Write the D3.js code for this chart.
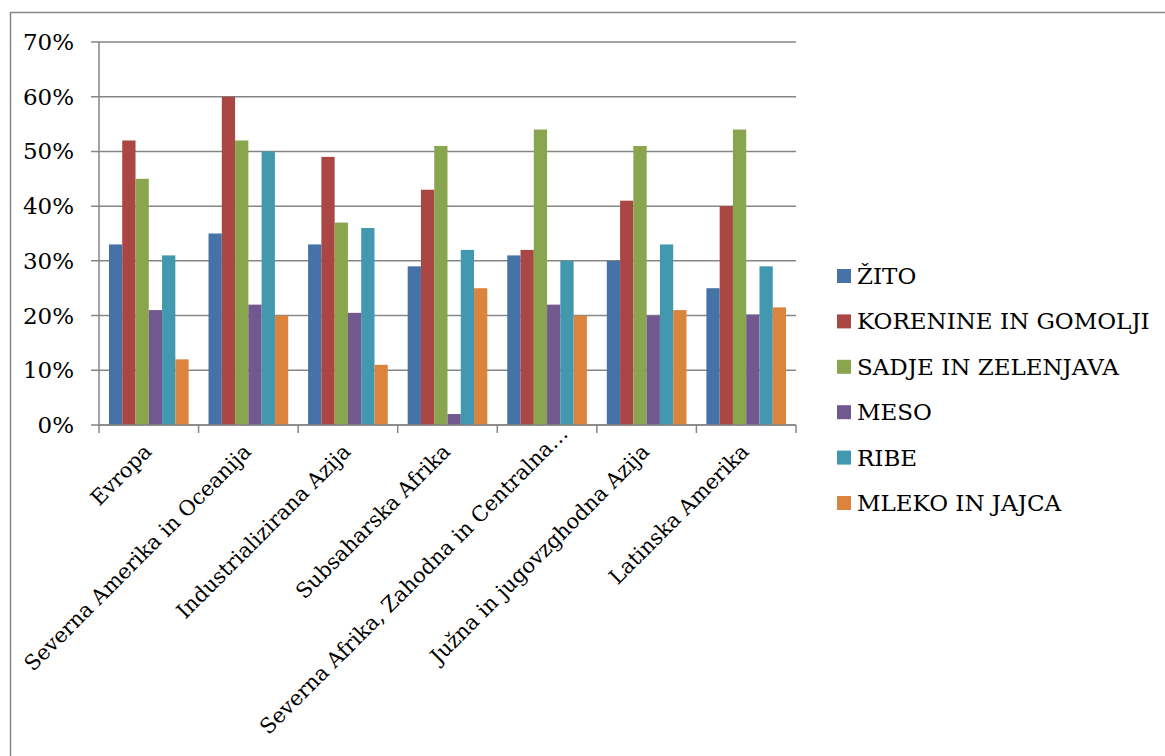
<!DOCTYPE html>
<html>
<head>
<meta charset="utf-8">
<script src="https://cdn.jsdelivr.net/npm/d3@7"></script>
<style>
  body { margin: 0; background: #fff; }
</style>
</head>
<body>
<svg width="1165" height="756"></svg>
<script>
const regions = [
  "Evropa",
  "Severna Amerika in Oceanija",
  "Industrializirana Azija",
  "Subsaharska Afrika",
  "Severna Afrika, Zahodna in Centralna…",
  "Južna in jugovzghodna Azija",
  "Latinska Amerika"
];
const seriesNames = ["ŽITO", "KORENINE IN GOMOLJI", "SADJE IN ZELENJAVA", "MESO", "RIBE", "MLEKO IN JAJCA"];
const seriesColors = ["#4572A7", "#AA4643", "#89A54E", "#71588F", "#4198AF", "#DB843D"];

// values in %, one array per series, in region order
const zito     = [33, 35, 33, 29, 31, 30, 25];
const korenine = [52, 60, 49, 43, 32, 41, 40];
const sadje    = [45, 52, 37, 51, 54, 51, 54];
const meso     = [21, 22, 20.5, 2, 22, 20, 20.2];
const ribe     = [31, 50, 36, 32, 30, 33, 29];
const mleko    = [12, 20, 11, 25, 20, 21, 21.5];
const yTicks = [0, 10, 20, 30, 40, 50, 60, 70];

const series = [zito, korenine, sadje, meso, ribe, mleko];

const svg = d3.select("svg");
const grey = "#868686";
const serif = "'DejaVu Serif', 'Liberation Serif', serif";

// outer chart border
svg.append("rect")
  .attr("x", 10.5).attr("y", 12.5)
  .attr("width", 1200).attr("height", 800)
  .attr("fill", "none")
  .attr("stroke", grey)
  .attr("stroke-width", 1.5);

const plotLeft = 99, plotRight = 796, plotTop = 42, plotBottom = 425;

const x = d3.scaleBand().domain(regions).range([plotLeft, plotRight]).padding(0);
const xs = d3.scaleBand().domain(d3.range(series.length))
  .range([0, x.bandwidth()]).paddingInner(0).paddingOuter(0.75);
const y = d3.scaleLinear().domain([0, 70]).range([plotBottom, plotTop]);

// gridlines
svg.append("g")
  .selectAll("line")
  .data(yTicks)
  .enter().append("line")
  .attr("x1", plotLeft - 8).attr("x2", plotRight)
  .attr("y1", d => y(d)).attr("y2", d => y(d))
  .attr("stroke", grey)
  .attr("stroke-width", 1.5);

// y labels
svg.append("g")
  .selectAll("text")
  .data(yTicks)
  .enter().append("text")
  .attr("x", 74)
  .attr("y", d => y(d))
  .attr("dy", "0.35em")
  .attr("text-anchor", "end")
  .attr("font-family", serif)
  .attr("font-size", "23px")
  .attr("fill", "#000")
  .text(d => d + "%");

// bars
const groups = svg.append("g")
  .selectAll("g")
  .data(series)
  .enter().append("g")
  .attr("fill", (d, i) => seriesColors[i]);

groups.each(function(vals, si) {
  d3.select(this).selectAll("rect")
    .data(vals)
    .enter().append("rect")
    .attr("x", (d, ci) => x(regions[ci]) + xs(si))
    .attr("width", xs.bandwidth())
    .attr("y", d => y(d))
    .attr("height", d => y(0) - y(d));
});

// axes lines
svg.append("line")
  .attr("x1", plotLeft).attr("x2", plotLeft)
  .attr("y1", plotTop).attr("y2", plotBottom)
  .attr("stroke", grey).attr("stroke-width", 1.5);
svg.append("line")
  .attr("x1", plotLeft).attr("x2", plotRight)
  .attr("y1", plotBottom).attr("y2", plotBottom)
  .attr("stroke", grey).attr("stroke-width", 1.5);

// category ticks
svg.append("g")
  .selectAll("line")
  .data(regions.concat(["end"]))
  .enter().append("line")
  .attr("x1", (d, i) => plotLeft + i * x.step())
  .attr("x2", (d, i) => plotLeft + i * x.step())
  .attr("y1", plotBottom).attr("y2", plotBottom + 8)
  .attr("stroke", grey).attr("stroke-width", 1.5);

// category labels (the truncated one sits a bit further up the diagonal, as in Excel)
svg.append("g")
  .selectAll("text")
  .data(regions)
  .enter().append("text")
  .attr("transform", d => {
    const shift = d.endsWith("…") ? 18 : 0;
    return `translate(${x(d) + x.bandwidth() / 2 + 4 + shift},${plotBottom + 28 - shift}) rotate(-45)`;
  })
  .attr("text-anchor", "end")
  .attr("font-family", serif)
  .attr("font-size", "21px")
  .attr("fill", "#000")
  .text(d => d);

// legend
const legend = svg.append("g")
  .selectAll("g")
  .data(seriesNames)
  .enter().append("g")
  .attr("transform", (d, i) => `translate(837,${276 + i * 45.4})`);

legend.append("rect")
  .attr("x", 0).attr("y", -7)
  .attr("width", 14).attr("height", 14)
  .attr("fill", (d, i) => seriesColors[i]);

legend.append("text")
  .attr("x", 20)
  .attr("dy", "0.35em")
  .attr("font-family", serif)
  .attr("font-size", "23px")
  .attr("fill", "#000")
  .text(d => d);
</script>
</body>
</html>
